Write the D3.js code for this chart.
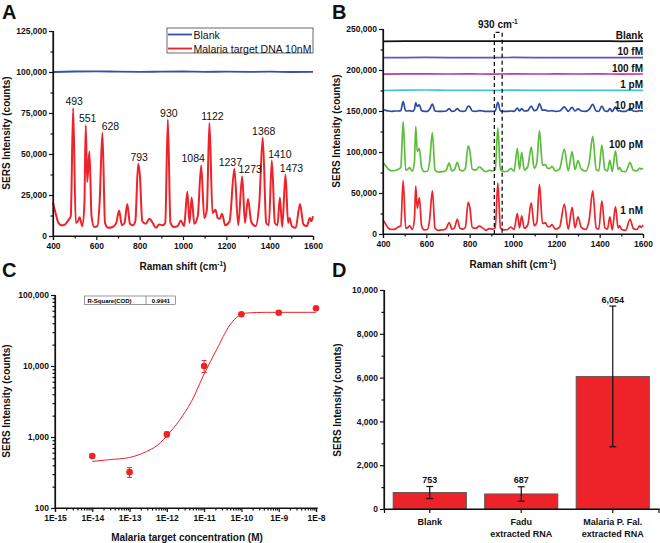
<!DOCTYPE html>
<html>
<head>
<meta charset="utf-8">
<script src="https://cdn.jsdelivr.net/npm/d3@7"></script>
<style>
  body { margin: 0; background: #fff; }
  svg { font-family: "Liberation Sans", Arial, sans-serif; }
  .tick text { font-weight: bold; font-size: 8.5px; fill: #111; }
  .domain, .tick line { stroke: #111; stroke-width: 1.2; }
  .title { font-weight: bold; font-size: 10px; fill: #111; }
  .panel { font-weight: bold; font-size: 20px; fill: #111; }
</style>
</head>
<body>
<svg id="chart" width="660" height="543"></svg>
<script>
"use strict";

// ---- data ----
const ramanShift = [400, 410, 425, 440, 455, 470, 482, 493, 505, 515, 523, 535, 545, 551, 558, 568, 578, 590, 605, 615,
  628, 640, 655, 675, 692, 705, 718, 730, 743, 755, 768, 780, 793, 801, 812, 828, 845, 860, 875, 890,
  905, 918, 930, 942, 958, 975, 990, 1005, 1020, 1030, 1040, 1052, 1068, 1084, 1098, 1110, 1122, 1136, 1150, 1160,
  1170, 1180, 1195, 1215, 1237, 1255, 1273, 1286, 1300, 1315, 1335, 1352, 1368, 1384, 1396, 1410, 1424, 1436, 1447, 1458,
  1473, 1485, 1492, 1502, 1520, 1540, 1556, 1572, 1585, 1592, 1600];

// panel A, malaria target DNA 10nM
const spectrumA = [20500, 15000, 8000, 6500, 7000, 9500, 12000, 78000, 8000, 9000, 11500, 6000, 20000, 67500, 33000, 51500, 12000, 5500, 6000, 20000,
  63000, 8000, 5000, 5500, 8000, 15500, 6500, 8000, 19500, 7500, 6500, 9000, 44000, 37000, 9000, 7500, 10500, 8000, 5000, 7000,
  6500, 8000, 71000, 8000, 5500, 6000, 9500, 6000, 27000, 8000, 23500, 7500, 12000, 43000, 11000, 16000, 69000, 14000, 16000, 11000,
  10500, 13500, 6500, 9000, 41000, 6500, 36500, 8000, 22500, 8500, 6000, 20000, 60000, 8000, 6500, 46000, 8000, 6500, 23500, 5500,
  37500, 8000, 11000, 6000, 5000, 19500, 7000, 6000, 11000, 9000, 12000];

const flatShift = [400, 500, 600, 700, 800, 900, 1000, 1100, 1200, 1300, 1400, 1500, 1600];
const blankA = [100000, 100300, 100400, 100200, 100100, 100200, 100300, 100100, 100200, 100100, 100200, 100000, 100100];

const peakLabels = [493, 551, 628, 793, 930, 1084, 1122, 1237, 1273, 1368, 1410, 1473];

// panel B, concentration series
const b1nM = [17000, 13000, 7000, 5500, 6000, 8500, 10000, 65000, 7000, 8000, 10000, 5500, 18000, 58500, 31500, 44500, 10000, 5000, 5500, 17000,
  52500, 7000, 4500, 5000, 7000, 14000, 6000, 7500, 18000, 7000, 6000, 8000, 38500, 32000, 8000, 7000, 9500, 7500, 4500, 6500,
  6000, 7500, 62000, 7500, 5000, 5500, 8500, 5500, 25000, 7500, 22000, 7000, 11000, 38000, 10000, 14000, 60500, 13000, 13500, 9000,
  9000, 11500, 6000, 8500, 36500, 6000, 32500, 7500, 21000, 8000, 5500, 18000, 52500, 7500, 6000, 40500, 7500, 6000, 21000, 5000,
  33500, 7500, 10000, 5500, 4500, 18000, 6500, 5500, 10000, 8000, 11000];

const b100pM = [87000, 84000, 79000, 77000, 77500, 79000, 81000, 137000, 78000, 79000, 81000, 76500, 88000, 131000, 100500, 104500, 81000, 76000, 76500, 88000,
  123500, 78000, 75500, 76000, 78000, 86500, 77000, 78500, 87500, 78000, 77000, 80000, 107500, 101000, 79000, 78000, 82000, 78500, 76000, 77500,
  77000, 78500, 129000, 78500, 76000, 76500, 80000, 76500, 104500, 79000, 99500, 78000, 82000, 106000, 80000, 87000, 126000, 84000, 84500, 80000,
  80000, 82500, 77000, 79500, 103500, 77000, 100500, 78500, 89500, 79000, 76500, 88000, 119000, 78500, 77000, 108500, 78500, 77000, 90000, 76000,
  101500, 78500, 81000, 76500, 76000, 87000, 77500, 77000, 80500, 79000, 80500];

const b10pM = [151500, 151000, 150000, 149500, 150000, 150000, 150500, 161500, 150000, 150000, 150500, 149500, 152000, 160000, 155500, 157500, 150500, 149500, 149500, 152000,
  158500, 150000, 149500, 149500, 150000, 153000, 149500, 150000, 153000, 150000, 149500, 150000, 156000, 155000, 150000, 149500, 150500, 150000, 149500, 149500,
  149500, 150000, 160500, 150000, 149500, 149500, 150000, 149500, 153500, 150000, 153000, 150000, 150500, 156000, 150500, 151500, 159000, 151000, 151000, 150000,
  150000, 150500, 149500, 150000, 155000, 149500, 154500, 150000, 152500, 150000, 149500, 152000, 158000, 150000, 149500, 156000, 150000, 149500, 153000, 149500,
  155000, 150000, 150500, 149500, 149500, 152500, 150000, 149500, 150500, 150000, 150500];

const b1pM = [175000, 175400, 175600, 175200, 175300, 175100, 175400, 175200, 175300, 175100, 175300, 175100, 175200];
const b100fM = [195000, 195200, 195300, 195100, 195200, 195000, 195300, 195100, 195200, 195100, 195200, 195000, 195100];
const b10fM = [215000, 215200, 215300, 215100, 215200, 215100, 215300, 215100, 215200, 215000, 215200, 215100, 215100];
const bBlank = [235000, 235200, 235300, 235100, 235200, 235100, 235300, 235100, 235200, 235100, 235200, 235000, 235100];

const bSeriesNames = ["Blank", "10 fM", "100 fM", "1 pM", "10 pM", "100 pM", "1 nM"];
const peakWindow = [914, 950];

// panel C, calibration
const concM = [1e-14, 1e-13, 1e-12, 1e-11, 1e-10, 1e-9, 1e-8];
const concSignal = [540, 320, 1090, 10000, 53500, 56300, 65000];
const concErr = [30, 50, 90, 1900, 2500, 2000, 2500];
const fitExp = [-14, -13.53, -13, -12.54, -12.18, -12, -11.65, -11.34, -11, -10.67, -10.31, -10.08, -9.86, -9.33, -8];
const fitSignal = [453, 480, 515, 627, 822, 1040, 1750, 3170, 7720, 16800, 37800, 50600, 55700, 57000, 57000];
const rSquare = "0.9941";

// panel D, samples
const sampleNames = [["Blank"], ["Fadu", "extracted RNA"], ["Malaria P. Fal.", "extracted RNA"]];
const sampleMean = [753, 687, 6054];
const sampleErr = [274, 329, 3212];

// ---- layout ----
const red = "#ee2229";
const bColors = ["#111111", "#6a4fc0", "#c4379b", "#3fc3dc", "#2c4aa6", "#5cbd3c", red];
const bLabelLevel = [235000, 215000, 195000, 175000, 150000, 102400, 21300];
// horizontal shift of peak labels, px
const labelNudge = { 493: 1, 551: 2, 628: 8, 793: 1, 930: 1, 1084: -8, 1122: 3, 1237: -4, 1273: 8, 1368: 1, 1410: 8, 1473: 6 };

const svg = d3.select("#chart");
const fmt = d3.format(",");

function axisLeftMinor(g, y, major, minor) {
  g.call(d3.axisLeft(y).tickValues(minor).tickSize(2.5).tickFormat(""));
  g.select(".domain").remove();
  g.append("g").call(d3.axisLeft(y).tickValues(major).tickSize(4).tickPadding(2).tickFormat(fmt));
}

function axisBottomMinor(g, x, major, minor, format) {
  g.call(d3.axisBottom(x).tickValues(minor).tickSize(2.5).tickFormat(""));
  g.select(".domain").remove();
  g.append("g").call(d3.axisBottom(x).tickValues(major).tickSize(4).tickPadding(3).tickFormat(format));
}

function yTitle(x, y, txt) {
  svg.append("text").attr("class", "title")
    .attr("transform", `translate(${x},${y}) rotate(-90)`)
    .attr("text-anchor", "middle").text(txt);
}

function ramanTitle(x, y) {
  const t = svg.append("text").attr("class", "title").attr("x", x).attr("y", y).attr("text-anchor", "middle");
  t.append("tspan").text("Raman shift (cm");
  t.append("tspan").attr("dy", -4).style("font-size", "6.5px").text("-1");
  t.append("tspan").attr("dy", 4).text(")");
}

function panelLabel(x, y, txt) {
  svg.append("text").attr("class", "panel").attr("x", x).attr("y", y).text(txt);
}

// ---- panel A ----
const xA = d3.scaleLinear().domain([400, 1600]).range([53, 313]);
const yA = d3.scaleLinear().domain([0, 125000]).range([236, 31]);

const gA = svg.append("g");
const lineA = d3.line().x((d) => xA(d[0])).y((d) => yA(d[1])).curve(d3.curveMonotoneX);

gA.append("path")
  .attr("d", lineA(flatShift.map((s, i) => [s, blankA[i]])))
  .attr("fill", "none").attr("stroke", "#3153a6").attr("stroke-width", 1.8);
gA.append("path")
  .attr("d", lineA(ramanShift.map((s, i) => [s, spectrumA[i]])))
  .attr("fill", "none").attr("stroke", red).attr("stroke-width", 2);

gA.append("g").attr("transform", "translate(0,236)")
  .call(axisBottomMinor, xA, d3.range(400, 1601, 200), d3.range(500, 1600, 200), d3.format("d"));
gA.append("g").attr("transform", "translate(53,0)")
  .call(axisLeftMinor, yA, d3.range(0, 125001, 25000), d3.range(12500, 125000, 25000));
gA.append("line").attr("x1", 53).attr("x2", 53).attr("y1", 31).attr("y2", 236).attr("stroke", "#111").attr("stroke-width", 1.2);
gA.append("line").attr("x1", 53).attr("x2", 313).attr("y1", 236).attr("y2", 236).attr("stroke", "#111").attr("stroke-width", 1.2);

gA.selectAll("text.peak").data(peakLabels).enter().append("text")
  .attr("class", "peak")
  .attr("x", (d) => xA(d) + (labelNudge[d] || 0))
  .attr("y", (d) => yA(spectrumA[ramanShift.indexOf(d)]) - 3)
  .attr("text-anchor", "middle")
  .style("font-size", "10.5px").style("fill", "#111")
  .text((d) => d);

// legend
const legA = gA.append("g");
legA.append("rect").attr("x", 167).attr("y", 28).attr("width", 146).attr("height", 25)
  .attr("fill", "#fff").attr("stroke", "#444").attr("stroke-width", 0.8);
[["Blank", "#3153a6"], ["Malaria target DNA 10nM", red]].forEach(function (d, i) {
  const yy = 34.5 + i * 14;
  legA.append("line").attr("x1", 168).attr("x2", 192).attr("y1", yy).attr("y2", yy)
    .attr("stroke", d[1]).attr("stroke-width", 1.8);
  legA.append("text").attr("x", 193.5).attr("y", yy + 4).style("font-size", "10.5px").style("fill", "#111").text(d[0]);
});

yTitle(10, 133, "SERS Intensity (counts)");
ramanTitle(183, 270);
panelLabel(2, 18.5, "A");

// ---- panel B ----
const xB = d3.scaleLinear().domain([400, 1600]).range([383, 643]);
const yB = d3.scaleLinear().domain([0, 250000]).range([234, 29]);
const gB = svg.append("g");
const lineB = d3.line().x((d) => xB(d[0])).y((d) => yB(d[1])).curve(d3.curveMonotoneX);

const bSeries = [
  [flatShift, bBlank], [flatShift, b10fM], [flatShift, b100fM], [flatShift, b1pM],
  [ramanShift, b10pM], [ramanShift, b100pM], [ramanShift, b1nM]
];
bSeries.forEach(function (s, k) {
  gB.append("path")
    .attr("d", lineB(s[0].map((v, i) => [v, s[1][i]])))
    .attr("fill", "none").attr("stroke", bColors[k]).attr("stroke-width", 1.7);
  gB.append("text")
    .attr("x", xB(1600)).attr("y", yB(bLabelLevel[k]) - 2.5)
    .attr("text-anchor", "end").attr("class", "title")
    .text(bSeriesNames[k]);
});

// dashed window round the 930 peak
const winTop = yB(246000);
gB.append("path")
  .attr("d", `M${xB(peakWindow[0])},${yB(0)}V${winTop}H${xB(peakWindow[1])}V${yB(0)}`)
  .attr("fill", "none").attr("stroke", "#111").attr("stroke-width", 1.3).attr("stroke-dasharray", "4,3");
const wl = gB.append("text").attr("class", "title").attr("x", xB(930)).attr("y", 27.5).attr("text-anchor", "middle");
wl.append("tspan").text("930 cm");
wl.append("tspan").attr("dy", -4).style("font-size", "6.5px").text("-1");

gB.append("g").attr("transform", "translate(0,234)")
  .call(axisBottomMinor, xB, d3.range(400, 1601, 200), d3.range(500, 1600, 200), d3.format("d"));
gB.append("g").attr("transform", "translate(383,0)")
  .call(axisLeftMinor, yB, d3.range(0, 250001, 50000), d3.range(25000, 250000, 50000));
gB.append("line").attr("x1", 383).attr("x2", 383).attr("y1", 29).attr("y2", 234).attr("stroke", "#111").attr("stroke-width", 1.2);
gB.append("line").attr("x1", 383).attr("x2", 643).attr("y1", 234).attr("y2", 234).attr("stroke", "#111").attr("stroke-width", 1.2);

yTitle(340, 131, "SERS Intensity (counts)");
ramanTitle(513, 268);
panelLabel(332, 18.5, "B");

// ---- panel C ----
const xC = d3.scaleLog().domain([1e-15, 1e-8]).range([55, 316]);
const yC = d3.scaleLog().domain([100, 100000]).range([508, 295]);
const gC = svg.append("g");

function logMinor(lo, hi) {
  const out = [];
  for (let e = lo; e < hi; e++) {
    for (let m = 2; m <= 9; m++) out.push(m * Math.pow(10, e));
  }
  return out;
}
const decadesX = d3.range(-15, -7).map((e) => Math.pow(10, e));
const decadesY = [100, 1000, 10000, 100000];

gC.append("g").attr("transform", "translate(0,508)")
  .call(axisBottomMinor, xC, decadesX, logMinor(-15, -8), (d) => "1E" + Math.round(Math.log10(d)));
gC.append("g").attr("transform", "translate(55,0)")
  .call(axisLeftMinor, yC, decadesY, logMinor(2, 5));
gC.append("line").attr("x1", 55).attr("x2", 55).attr("y1", 295).attr("y2", 508).attr("stroke", "#111").attr("stroke-width", 1.2);
gC.append("line").attr("x1", 55).attr("x2", 318).attr("y1", 508).attr("y2", 508).attr("stroke", "#111").attr("stroke-width", 1.2);

const fitLine = d3.line().x((d) => xC(d[0])).y((d) => yC(d[1])).curve(d3.curveMonotoneX);
gC.append("path")
  .attr("d", fitLine(fitExp.map((e, i) => [Math.pow(10, e), fitSignal[i]])))
  .attr("fill", "none").attr("stroke", red).attr("stroke-width", 1);

const pts = gC.selectAll("g.pt").data(concM).enter().append("g").attr("class", "pt");
pts.append("line")
  .attr("x1", (d) => xC(d)).attr("x2", (d) => xC(d))
  .attr("y1", (d, i) => yC(concSignal[i] + concErr[i]))
  .attr("y2", (d, i) => yC(concSignal[i] - concErr[i]))
  .attr("stroke", red).attr("stroke-width", 1);
[1, -1].forEach(function (sgn) {
  pts.append("line")
    .attr("x1", (d) => xC(d) - 2.5).attr("x2", (d) => xC(d) + 2.5)
    .attr("y1", (d, i) => yC(concSignal[i] + sgn * concErr[i]))
    .attr("y2", (d, i) => yC(concSignal[i] + sgn * concErr[i]))
    .attr("stroke", red).attr("stroke-width", 1);
});
pts.append("circle")
  .attr("cx", (d) => xC(d)).attr("cy", (d, i) => yC(concSignal[i]))
  .attr("r", 3.3).attr("fill", red);

// R-square box
const rs = gC.append("g");
rs.append("rect").attr("x", 84.5).attr("y", 296).attr("width", 91).attr("height", 8.5)
  .attr("fill", "#fff").attr("stroke", "#555").attr("stroke-width", 0.6);
rs.append("line").attr("x1", 146).attr("x2", 146).attr("y1", 296).attr("y2", 304.5).attr("stroke", "#555").attr("stroke-width", 0.6);
rs.append("text").attr("x", 87.5).attr("y", 302.6).style("font-size", "6px").style("font-weight", "bold").text("R-Square(COD)");
rs.append("text").attr("x", 161).attr("y", 302.6).attr("text-anchor", "middle")
  .style("font-size", "6px").style("font-weight", "bold").text(rSquare);

yTitle(10, 401, "SERS Intensity (counts)");
svg.append("text").attr("class", "title").attr("x", 187).attr("y", 540.5).attr("text-anchor", "middle")
  .text("Malaria target concentration (M)");
panelLabel(2, 277, "C");

// ---- panel D ----
const xD = d3.scaleBand().domain(d3.range(sampleMean.length)).range([384, 658.5]).paddingInner(0.2).paddingOuter(0.1);
const yD = d3.scaleLinear().domain([0, 10000]).range([509, 290]);
const gD = svg.append("g");

gD.selectAll("rect.bar").data(sampleMean).enter().append("rect")
  .attr("class", "bar")
  .attr("x", (d, i) => xD(i)).attr("width", xD.bandwidth())
  .attr("y", (d) => yD(d)).attr("height", (d) => yD(0) - yD(d))
  .attr("fill", red).attr("stroke", "#555").attr("stroke-width", 0.9);

const cx = (i) => xD(i) + xD.bandwidth() / 2;
sampleMean.forEach(function (m, i) {
  const top = yD(m + sampleErr[i]);
  const bot = yD(m - sampleErr[i]);
  gD.append("line").attr("x1", cx(i)).attr("x2", cx(i)).attr("y1", top).attr("y2", bot)
    .attr("stroke", "#111").attr("stroke-width", 1.2);
  [top, bot].forEach(function (yy) {
    gD.append("line").attr("x1", cx(i) - 3.5).attr("x2", cx(i) + 3.5).attr("y1", yy).attr("y2", yy)
      .attr("stroke", "#111").attr("stroke-width", 1.2);
  });
  gD.append("text").attr("x", cx(i)).attr("y", top - 3.5).attr("text-anchor", "middle")
    .style("font-size", "9px").style("font-weight", "bold").style("fill", "#111").text(fmt(m));
  sampleNames[i].forEach(function (ln, j) {
    gD.append("text").attr("x", cx(i)).attr("y", 525 + j * 12).attr("text-anchor", "middle")
      .style("font-size", "9px").style("font-weight", "bold").style("fill", "#111").text(ln);
  });
});

gD.append("g").attr("transform", "translate(0,509)")
  .call(d3.axisBottom(xD).tickSize(4).tickFormat(""));
gD.append("g").attr("transform", "translate(384,0)")
  .call(axisLeftMinor, yD, d3.range(0, 10001, 2000), d3.range(1000, 10000, 2000));
gD.append("line").attr("x1", 384).attr("x2", 384).attr("y1", 290).attr("y2", 509).attr("stroke", "#111").attr("stroke-width", 1.2);
gD.append("line").attr("x1", 384).attr("x2", 660).attr("y1", 509).attr("y2", 509).attr("stroke", "#111").attr("stroke-width", 1.2);

yTitle(341, 400, "SERS Intensity (counts)");
panelLabel(332, 277, "D");
</script>
</body>
</html>
